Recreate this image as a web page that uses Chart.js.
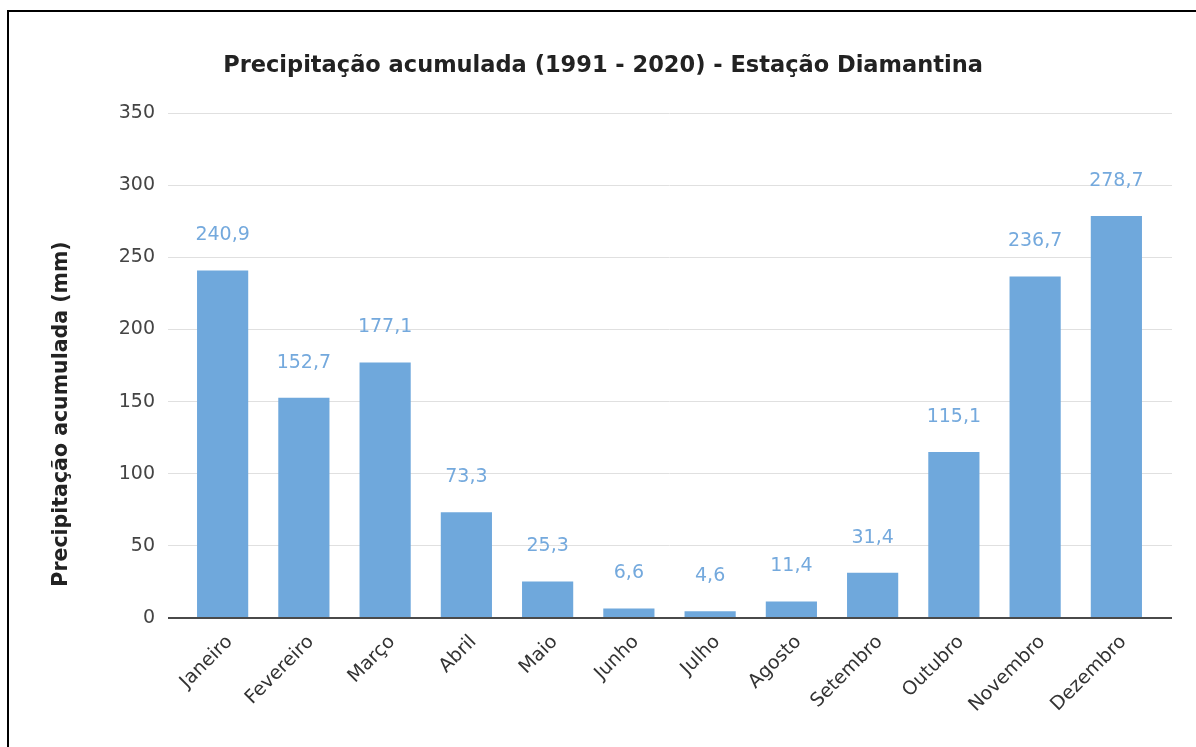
<!DOCTYPE html>
<html>
<head>
<meta charset="utf-8">
<script src="https://cdn.jsdelivr.net/npm/chart.js@4/dist/chart.umd.min.js"></script>
<style>
  html, body { margin: 0; padding: 0; background: #fff; overflow: hidden; }
  #wrap { position: relative; width: 1196px; height: 747px; }
  #frame { position: absolute; left: 7px; top: 10px; width: 1400px; height: 1000px;
           border-top: 2px solid #000; border-left: 2px solid #000; pointer-events: none; }
  canvas { position: absolute; left: 0; top: 0; }
</style>
</head>
<body>
<div id="wrap">
  <canvas id="c" width="1196" height="747"></canvas>
  <div id="frame"></div>
</div>
<script>
const chartTitle = 'Precipitação acumulada (1991 - 2020) - Estação Diamantina';
const yAxisTitle = 'Precipitação acumulada (mm)';
const months = ['Janeiro','Fevereiro','Março','Abril','Maio','Junho','Julho','Agosto','Setembro','Outubro','Novembro','Dezembro'];
const precipitation = [240.9, 152.7, 177.1, 73.3, 25.3, 6.6, 4.6, 11.4, 31.4, 115.1, 236.7, 278.7];
const yTicks = [0, 50, 100, 150, 200, 250, 300, 350];

const FONT = '"DejaVu Sans", sans-serif';
const BAR = '#6fa8dc';
const GRID = '#e0e0e0';
const ZERO = '#4a4a4a';

const fmt = v => v.toFixed(1).replace('.', ',');
const align1 = p => Math.round(p + 0.5) - 0.5;

const decor = {
  id: 'decor',
  beforeDatasetsDraw(chart) {
    const ctx = chart.ctx, a = chart.chartArea, y = chart.scales.y;
    ctx.save();
    yTicks.forEach(t => {
      if (t === 0) return;
      const py = align1(y.getPixelForValue(t));
      ctx.strokeStyle = GRID;
      ctx.lineWidth = 1;
      ctx.beginPath();
      ctx.moveTo(a.right, py);
      ctx.lineTo(a.right + 15, py);
      ctx.stroke();
    });
    ctx.restore();
  },
  afterDraw(chart) {
    const ctx = chart.ctx, x = chart.scales.x, y = chart.scales.y;
    ctx.save();
    // zero baseline on top of bars
    const p0 = Math.round(y.getPixelForValue(0));
    ctx.strokeStyle = ZERO;
    ctx.lineWidth = 2;
    ctx.beginPath();
    ctx.moveTo(chart.chartArea.left - 14, p0);
    ctx.lineTo(chart.chartArea.right + 15, p0);
    ctx.stroke();
    // data labels
    ctx.font = '19px ' + FONT;
    ctx.fillStyle = '#74a9dd';
    ctx.textAlign = 'center';
    ctx.textBaseline = 'middle';
    precipitation.forEach((v, i) => {
      const px = x.getPixelForValue(i);
      const py = y.getPixelForValue(v) - 35;
      ctx.fillText(fmt(v), px, py);
    });
    // title
    ctx.font = 'bold 22.5px ' + FONT;
    ctx.fillStyle = '#222';
    ctx.fillText(chartTitle, 603, 66);
    // y axis title
    ctx.translate(62, 414);
    ctx.rotate(-Math.PI / 2);
    ctx.font = 'bold 20.5px ' + FONT;
    ctx.fillText(yAxisTitle, 0, 0);
    ctx.restore();
  }
};

new Chart(document.getElementById('c'), {
  type: 'bar',
  data: {
    labels: months,
    datasets: [{
      data: precipitation,
      backgroundColor: BAR,
      borderWidth: 0,
      barPercentage: 0.63,
      categoryPercentage: 1.0
    }]
  },
  options: {
    responsive: false,
    animation: false,
    devicePixelRatio: 1,
    layout: { padding: { left: 0, right: 39, top: 113, bottom: 0 } },
    plugins: { legend: { display: false }, tooltip: { enabled: false }, title: { display: false } },
    scales: {
      x: {
        grid: { display: false },
        border: { display: false },
        ticks: {
          color: '#333',
          font: { family: FONT, size: 19 },
          minRotation: 45,
          maxRotation: 45,
          padding: 5,
          labelOffset: 7
        },
        afterFit(scale) { scale.height = 129; }
      },
      y: {
        min: 0,
        max: 350,
        border: { display: false },
        grid: {
          color: ctx => ctx.tick && ctx.tick.value === 0 ? ZERO : GRID,
          tickColor: ctx => ctx.tick && ctx.tick.value === 0 ? ZERO : GRID,
          tickLength: 14,
          lineWidth: 1
        },
        afterBuildTicks(scale) { scale.ticks = yTicks.map(v => ({ value: v })); },
        ticks: {
          color: '#444',
          font: { family: FONT, size: 19 },
          padding: 13
        },
        afterFit(scale) { scale.width = 182; }
      }
    }
  },
  plugins: [decor]
});
</script>
</body>
</html>
